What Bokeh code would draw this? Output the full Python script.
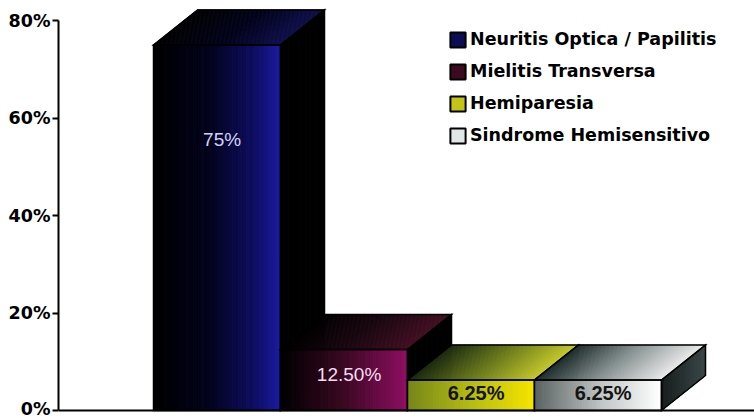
from bokeh.plotting import figure
from bokeh.models import Range1d, FixedTicker, PrintfTickFormatter, Span, Legend, LegendItem
from bokeh.core.properties import value
from bokeh.embed import file_html
from bokeh.resources import INLINE

# ---- data -------------------------------------------------------------
categories = [
    "Neuritis Optica / Papilitis",
    "Mielitis Transversa",
    "Hemiparesia",
    "Sindrome Hemisensitivo",
]
percentages = [75, 12.5, 6.25, 6.25]
y_ticks = [0, 20, 40, 60, 80]

# ---- styling ----------------------------------------------------------
front_stops = [
    [(0.0, "#000000"), (0.45, "#03031e"), (0.8, "#0e0e62"), (1.0, "#1a1aa0")],
    [(0.0, "#000000"), (0.5, "#3a0822"), (1.0, "#8e0e62")],
    [(0.0, "#76861a"), (0.5, "#b4bc12"), (1.0, "#f6e400")],
    [(0.0, "#5a6262"), (0.55, "#c4c8c8"), (1.0, "#ffffff")],
]
top_stops = [
    [(0.0, "#000000"), (0.5, "#02021a"), (1.0, "#0e0e4a")],
    [(0.0, "#000000"), (0.5, "#1a0610"), (1.0, "#420e20")],
    [(0.0, "#1a2810"), (0.5, "#6a7a1a"), (1.0, "#c4c82a")],
    [(0.0, "#1e2c2c"), (0.5, "#8a9494"), (1.0, "#eaeaea")],
]
side_stops = [
    [(0.0, "#000000"), (1.0, "#000000")],
    [(0.0, "#000000"), (1.0, "#000000")],
    [(0.0, "#000000"), (1.0, "#000000")],
    [(0.0, "#161c1c"), (1.0, "#3a4646")],
]
swatch_colors = ["#0c0c52", "#3e0a22", "#c4c414", "#e2e6e6"]
label_colors = ["#d2d2f6", "#f4ddf0", "#141414", "#141414"]
label_styles = ["normal", "normal", "bold", "bold"]
label_height_frac = [0.74, 0.59, 0.59, 0.59]

# ---- geometry (screen scale of the plot frame) -------------------------
W, H = 754, 418
FRAME_LEFT = 58
PX_PER_BAR = 127.0          # one category slot in pixels
PX_PER_PCT = 4.875          # one percent in pixels
FIRST_BAR_PX = 153 - FRAME_LEFT
ZERO_FROM_BOTTOM = 8
DEPTH_X = 44 / PX_PER_BAR   # 3-D depth offsets, data units
DEPTH_Y = 35 / PX_PER_PCT

x_start = -FIRST_BAR_PX / PX_PER_BAR
x_end = x_start + (W - FRAME_LEFT) / PX_PER_BAR
y_start = -ZERO_FROM_BOTTOM / PX_PER_PCT
y_end = y_start + H / PX_PER_PCT


def mix(stops, t):
    for (p0, c0), (p1, c1) in zip(stops[:-1], stops[1:]):
        if t <= p1 or (p1 == stops[-1][0]):
            f = 0.0 if p1 == p0 else min(max((t - p0) / (p1 - p0), 0.0), 1.0)
            a = [int(c0[k:k + 2], 16) for k in (1, 3, 5)]
            b = [int(c1[k:k + 2], 16) for k in (1, 3, 5)]
            return "#%02x%02x%02x" % tuple(round(a[j] + (b[j] - a[j]) * f) for j in range(3))
    return stops[-1][1]


p = figure(
    width=W, height=H,
    x_range=Range1d(x_start, x_end), y_range=Range1d(y_start, y_end),
    output_backend="svg", toolbar_location=None, x_axis_location=None,
    min_border_left=FRAME_LEFT, min_border_right=0, min_border_top=0, min_border_bottom=0,
)
p.outline_line_color = None
p.xgrid.visible = False
p.ygrid.visible = False
p.background_fill_color = "white"

N_STRIPS = 48
N_SIDE = 16

for i, v in enumerate(percentages):
    x0, x1 = i, i + 1
    xs, ys, cs = [], [], []
    # side face (strips along the depth)
    for k in range(N_SIDE):
        s0, s1 = k / N_SIDE, (k + 1) / N_SIDE
        xs.append([x1 + s0 * DEPTH_X, x1 + s1 * DEPTH_X, x1 + s1 * DEPTH_X, x1 + s0 * DEPTH_X])
        ys.append([s0 * DEPTH_Y, s1 * DEPTH_Y, v + s1 * DEPTH_Y, v + s0 * DEPTH_Y])
        cs.append(mix(side_stops[i], (k + 0.5) / N_SIDE))
    # top face (strips along the width)
    for k in range(N_STRIPS):
        a, b = x0 + k / N_STRIPS, x0 + (k + 1) / N_STRIPS
        xs.append([a, b, b + DEPTH_X, a + DEPTH_X])
        ys.append([v, v, v + DEPTH_Y, v + DEPTH_Y])
        cs.append(mix(top_stops[i], (k + 0.5) / N_STRIPS))
    # front face
    for k in range(N_STRIPS):
        a, b = x0 + k / N_STRIPS, x0 + (k + 1) / N_STRIPS
        xs.append([a, b, b, a])
        ys.append([0, 0, v, v])
        cs.append(mix(front_stops[i], (k + 0.5) / N_STRIPS))
    p.patches(xs=xs, ys=ys, fill_color=cs, line_color=cs, line_width=1)

    # face outlines
    p.patches(
        xs=[
            [x1, x1 + DEPTH_X, x1 + DEPTH_X, x1],
            [x0, x1, x1 + DEPTH_X, x0 + DEPTH_X],
            [x0, x1, x1, x0],
        ],
        ys=[
            [0, DEPTH_Y, v + DEPTH_Y, v],
            [v, v, v + DEPTH_Y, v + DEPTH_Y],
            [0, 0, v, v],
        ],
        fill_color=None, line_color="black", line_width=1.5, line_join="miter",
    )

# value labels on the bar fronts
for i, v in enumerate(percentages):
    txt = f"{v:.0f}%" if float(v).is_integer() else f"{v:.2f}%"
    p.text(
        x=[i + 0.54], y=[v * label_height_frac[i]], text=[txt],
        text_align="center", text_baseline="middle",
        text_font=value("Liberation Sans"),
        text_font_size=value("20px" if label_styles[i] == "bold" else "19px"),
        text_font_style=label_styles[i], text_color=label_colors[i],
    )

# baseline
p.add_layout(Span(location=0, dimension="width", line_color="black", line_width=2))

# y axis
ax = p.yaxis[0]
ax.ticker = FixedTicker(ticks=y_ticks)
ax.formatter = PrintfTickFormatter(format="%d%%")
ax.bounds = (0, 80)
ax.axis_line_width = 2
ax.axis_line_color = "black"
ax.major_tick_line_width = 2
ax.major_tick_out = 6
ax.major_tick_in = 0
ax.minor_tick_line_color = None
ax.major_label_standoff = 2
ax.major_label_text_font = "DejaVu Sans"
ax.major_label_text_font_style = "bold"
ax.major_label_text_font_size = "17.5px"
ax.major_label_text_color = "black"

# legend swatches: legend-only renderers (NaN position, nothing drawn in the plot)
nan = float("nan")
items = []
for name, col in zip(categories, swatch_colors):
    r = p.rect(x=[nan], y=[nan], width=1, height=1, fill_color=col,
               line_color="black", line_width=2)
    items.append(LegendItem(label=name, renderers=[r]))

legend = Legend(
    items=items, location=(390, 272.5), orientation="vertical",
    glyph_width=19, glyph_height=19, label_height=21, spacing=11,
    label_standoff=3, padding=0, margin=0,
    label_text_font="DejaVu Sans", label_text_font_style="bold",
    label_text_font_size="17.5px", label_text_color="black",
    border_line_color=None, background_fill_alpha=0,
)
p.add_layout(legend)

open("out.html", "w").write(file_html(p, INLINE))
